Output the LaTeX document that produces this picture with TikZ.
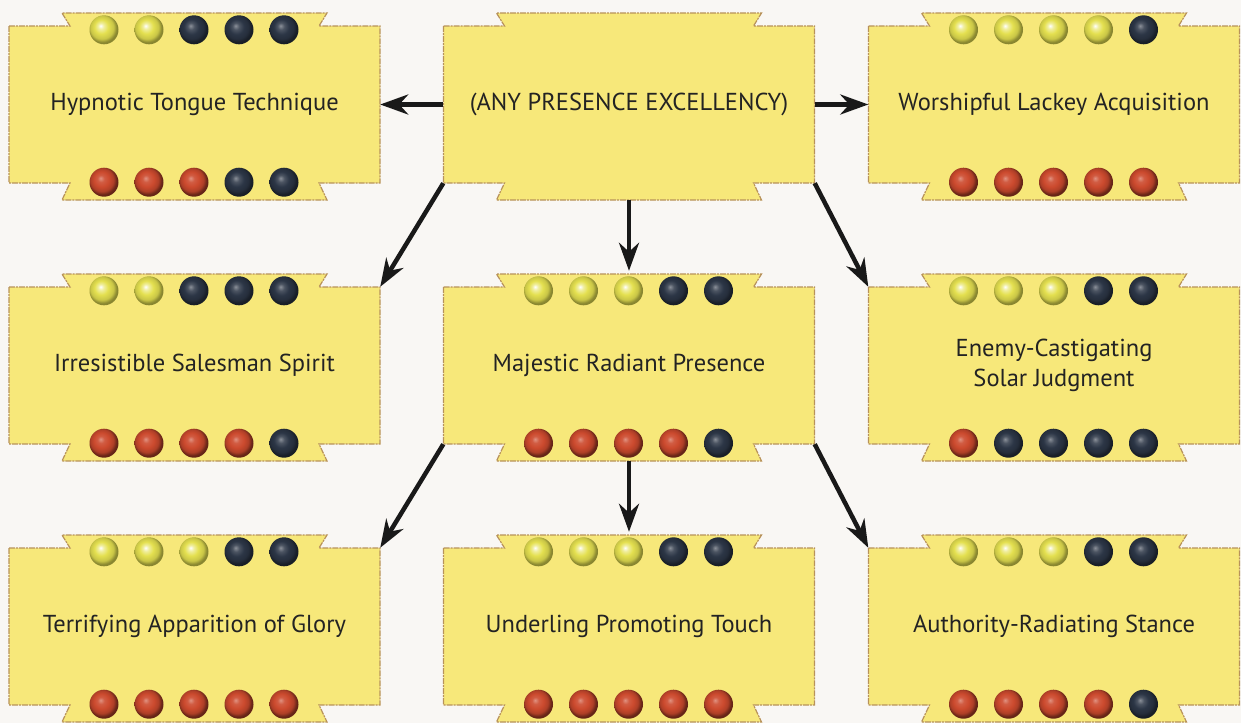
\documentclass[tikz,border=0pt]{standalone}
\usepackage{fontspec}
\setmainfont{PT Sans}
\usetikzlibrary{arrows.meta,calc}
\definecolor{bg}{RGB}{249,247,244}
\definecolor{boxfill}{RGB}{247,232,122}
\definecolor{boxedge}{RGB}{184,146,90}
\definecolor{dy}{RGB}{228,224,80}
\definecolor{dk}{RGB}{44,54,70}
\definecolor{dr}{RGB}{204,74,46}
\definecolor{txt}{RGB}{35,35,35}
\pgfdeclareradialshading{orby}{\pgfpoint{-6bp}{7bp}}{color(0bp)=(white);
  color(5bp)=(dy!55!white); color(12bp)=(dy); color(20bp)=(dy!88!black);
  color(25bp)=(dy!60!black); color(50bp)=(dy!60!black)}
\pgfdeclareradialshading{orbr}{\pgfpoint{-6bp}{7bp}}{color(0bp)=(dr!60!white);
  color(6bp)=(dr!90!white); color(13bp)=(dr); color(20bp)=(dr!85!black);
  color(25bp)=(dr!50!black); color(50bp)=(dr!50!black)}
\pgfdeclareradialshading{orbk}{\pgfpoint{-6bp}{7bp}}{color(0bp)=(dk!55!white);
  color(6bp)=(dk!85!white); color(13bp)=(dk); color(20bp)=(dk!85!black);
  color(25bp)=(dk!55!black); color(50bp)=(dk!55!black)}
\tikzset{
  charm/.style={minimum width=371pt, minimum height=157pt, inner sep=0pt,
    text=txt, font=\fontsize{24.5}{30}\selectfont, align=center},
  outline/.style={fill=boxfill, draw=boxedge, line width=1.2pt,
    dash pattern=on 6pt off 1pt on 2pt off 1pt},
  arr/.style={line width=4.5pt, draw=black!90,
    -{Stealth[length=28pt,width=20pt,inset=9pt]}},
}
\newcommand\charmbox[4]{%
  \path[outline] (#2,#3) ++(-185.5,-78.5) -- ++(61,0) -- ++(-8,-13) -- ++(265,0)
    -- ++(-8,13) -- ++(61,0) -- ++(0,157) -- ++(-61,0) -- ++(8,17) -- ++(-265,0)
    -- ++(8,-17) -- ++(-61,0) -- cycle;
  \node[charm] (#1) at (#2,#3) {#4};}
\newcommand\orbs[3]{%
  \foreach \c [count=\i from 0] in {#2}
    \shade[shading=orb\c] ($(#1.north)+(-90.5+45*\i,4)$) circle (14.5pt);
  \foreach \c [count=\i from 0] in {#3}
    \shade[shading=orb\c] ($(#1.south)+(-90.5+45*\i,-1)$) circle (14.5pt);}
\begin{document}
\begin{tikzpicture}[x=1pt,y=-1pt]
\fill[bg] (0,0) rectangle (1241,723);
\useasboundingbox (0,0) rectangle (1241,723);
\charmbox{h}{194.5}{104.5}{Hypnotic Tongue Technique}
\charmbox{p}{629}{104.5}{(ANY PRESENCE EXCELLENCY)}
\charmbox{w}{1054}{104.5}{Worshipful Lackey Acquisition}
\charmbox{i}{194.5}{365.5}{Irresistible Salesman Spirit}
\charmbox{m}{629}{365.5}{Majestic Radiant Presence}
\charmbox{e}{1054}{365.5}{Enemy-Castigating\\Solar Judgment}
\charmbox{t}{194.5}{626.5}{Terrifying Apparition of Glory}
\charmbox{u}{629}{626.5}{Underling Promoting Touch}
\charmbox{a}{1054}{626.5}{Authority-Radiating Stance}
\orbs{h}{y,y,k,k,k}{r,r,r,k,k}
\orbs{w}{y,y,y,y,k}{r,r,r,r,r}
\orbs{i}{y,y,k,k,k}{r,r,r,r,k}
\orbs{m}{y,y,y,k,k}{r,r,r,r,k}
\orbs{e}{y,y,y,k,k}{r,k,k,k,k}
\orbs{t}{y,y,y,k,k}{r,r,r,r,r}
\orbs{u}{y,y,y,k,k}{r,r,r,r,r}
\orbs{a}{y,y,y,k,k}{r,r,r,r,k}
\draw[arr] (p.west) -- (h.east);
\draw[arr] (p.east) -- (w.west);
\draw[arr, shorten <=17pt, shorten >=16pt] (p.south) -- (m.north);
\draw[arr] (p.south west) -- (i.north east);
\draw[arr] (p.south east) -- (e.north west);
\draw[arr, shorten <=17pt, shorten >=16pt] (m.south) -- (u.north);
\draw[arr] (m.south west) -- (t.north east);
\draw[arr] (m.south east) -- (a.north west);
\end{tikzpicture}
\end{document}
